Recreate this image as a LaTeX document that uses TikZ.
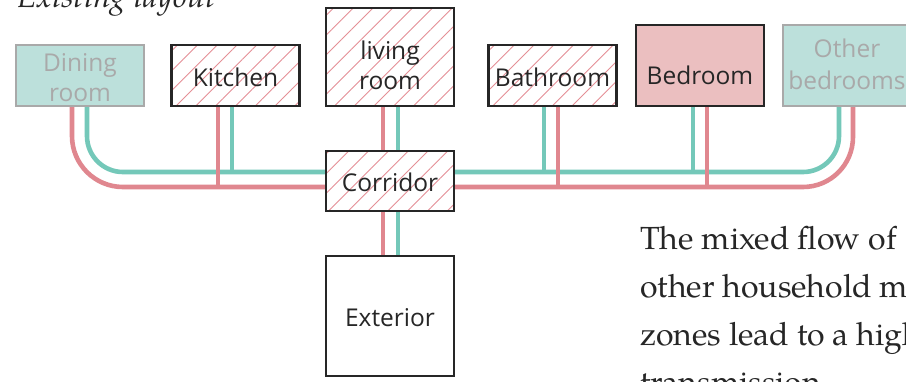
\documentclass[tikz,border=0pt]{standalone}
\usepackage{fontspec}
\setmainfont{texgyrepagella}[Extension=.otf, UprightFont=*-regular, ItalicFont=*-italic, BoldFont=*-bold, BoldItalicFont=*-bolditalic]
\newfontfamily\boxfont{Open Sans}
\usetikzlibrary{patterns.meta}
\definecolor{tealL}{HTML}{74C8B9}
\definecolor{redL}{HTML}{E0878F}
\definecolor{tealF}{HTML}{BCE0DB}
\definecolor{pinkF}{HTML}{EBBFC0}
\definecolor{grayB}{HTML}{A9A9A9}
\definecolor{darkB}{HTML}{262626}
\definecolor{hatchC}{HTML}{E58F96}
\pgfdeclarelayer{bg}
\pgfsetlayers{bg,main}
\tikzset{
  room/.style={draw=darkB, line width=2.4pt, minimum width=128pt, inner sep=0pt},
  lab/.style={align=center, font=\boxfont\fontsize{24.5}{30}\selectfont, text=darkB, inner sep=0pt},
  glab/.style={lab, text=grayB},
  hatched/.style={room, preaction={fill=white},
    pattern={Lines[angle=45,distance=14pt,line width=0.9pt]}, pattern color=hatchC},
  other/.style={room, draw=grayB, fill=tealF},
  redl/.style={draw=redL, line width=4.6pt},
  teall/.style={draw=tealL, line width=4.6pt},
}
\begin{document}
\begin{tikzpicture}[x=1pt,y=-1pt]
\useasboundingbox (0,0) rectangle (906,381);
\begin{scope}
\clip (0,0) rectangle (906,381);
\coordinate (ty) at (0,172);
\coordinate (ry) at (0,187);

\node[other, minimum height=61pt, label={[glab, yshift=-2.5pt]center:Dining\\room}] (dining) at (80,75.5) {};
\node[hatched, minimum height=61pt, label={[lab, yshift=-1.5pt]center:Kitchen}] (kitchen) at (235.5,75.5) {};
\node[hatched, minimum height=98pt, label={[lab, yshift=-8pt]center:living\\room}] (living) at (390,57) {};
\node[hatched, minimum height=61pt, label={[lab, yshift=-1.5pt]center:Bathroom}] (bath) at (552.5,75.5) {};
\node[room, fill=pinkF, minimum height=81pt, label={[lab, yshift=-9.5pt]center:Bedroom}] (bed) at (700,65.5) {};
\node[other, minimum height=81pt, label={[glab, yshift=1.5pt, font=\boxfont\fontsize{24.5}{32}\selectfont]center:Other\\bedrooms}] (others) at (847,65.5) {};
\node[hatched, minimum height=60pt, label={[lab, yshift=-1pt]center:Corridor}] (corr) at (390,181) {};
\node[room, fill=white, minimum height=120pt, label={[lab, yshift=-2pt]center:Exterior}] (ext) at (390,316) {};

\node[anchor=base west, font=\itshape\fontsize{32}{36}\selectfont, text=darkB, inner sep=0pt] (title) at (17,7) {Existing layout};
\node[anchor=base west, align=left, font=\fontsize{32}{48}\selectfont, text=darkB, inner sep=0pt] (para) at (640,393)
  {The mixed flow of\\other household m\\zones lead to a high\\transmission};
\end{scope}

\begin{pgfonlayer}{bg}
  \fill[white] (0,0) rectangle (906,381);
  % dining
  \draw[redl, rounded corners=51pt] ([xshift=-8pt]dining.south) |- (corr.west |- ry);
  \draw[teall, rounded corners=36pt] ([xshift=7pt]dining.south) |- (corr.west |- ty);
  % other bedrooms
  \draw[redl, rounded corners=50pt] ([xshift=6pt]others.south) |- (corr.east |- ry);
  \draw[teall, rounded corners=36pt] ([xshift=-8pt]others.south) |- (corr.east |- ty);
  % kitchen
  \path ([xshift=-17.5pt]kitchen.south) coordinate (kR) ([xshift=-3.5pt]kitchen.south) coordinate (kT);
  \draw[redl] (kR) -- (kR |- ry);
  \draw[teall] (kT) -- (kT |- ty);
  % bathroom
  \path ([xshift=5.5pt]bath.south) coordinate (bR) ([xshift=-8.5pt]bath.south) coordinate (bT);
  \draw[redl] (bR) -- (bR |- ry);
  \draw[teall] (bT) -- (bT |- ty);
  % bedroom
  \path ([xshift=7pt]bed.south) coordinate (dR) ([xshift=-7pt]bed.south) coordinate (dT);
  \draw[redl] (dR) -- (dR |- ry);
  \draw[teall] (dT) -- (dT |- ty);
  % living - corridor - exterior
  \draw[redl] ([xshift=-7pt]living.south) -- ([xshift=-7pt]corr.north);
  \draw[teall] ([xshift=8pt]living.south) -- ([xshift=8pt]corr.north);
  \draw[redl] ([xshift=-7pt]corr.south) -- ([xshift=-7pt]ext.north);
  \draw[teall] ([xshift=8pt]corr.south) -- ([xshift=8pt]ext.north);
\end{pgfonlayer}
\end{tikzpicture}
\end{document}
